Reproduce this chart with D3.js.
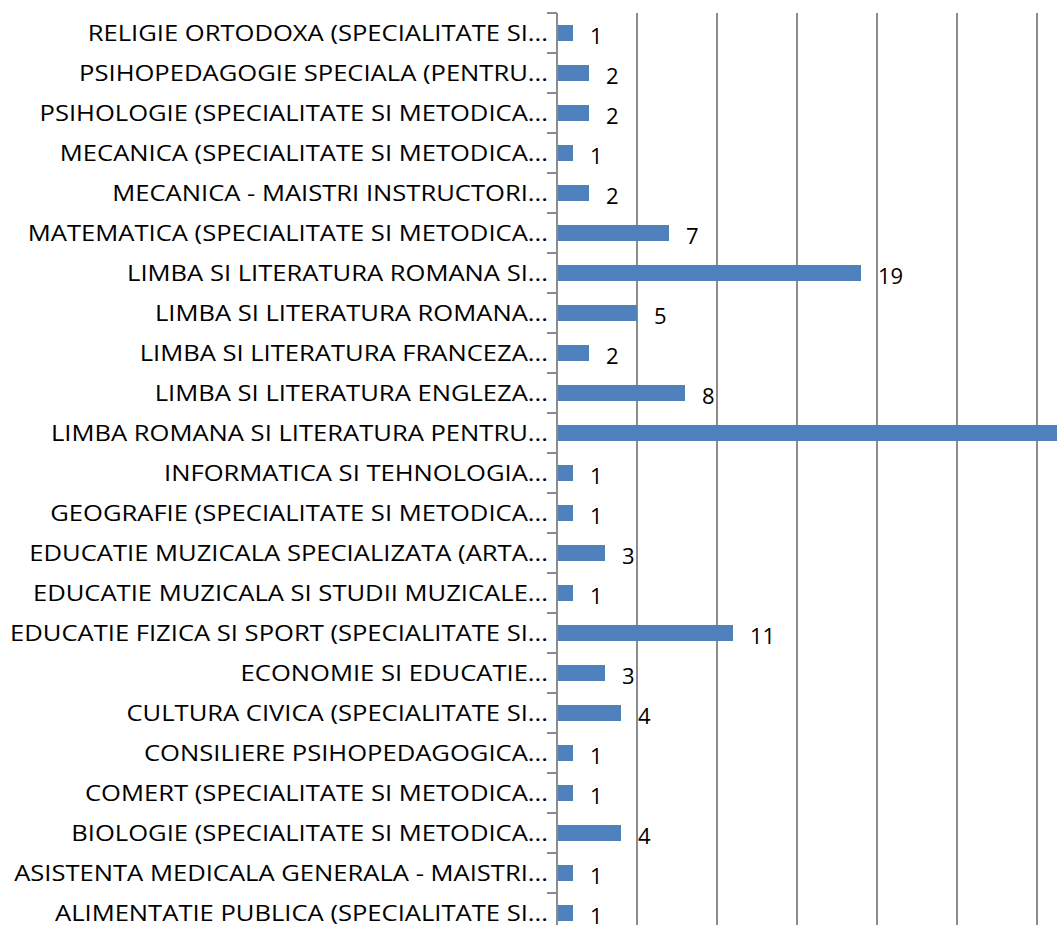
<!DOCTYPE html>
<html>
<head>
<meta charset="utf-8">
<script src="https://cdn.jsdelivr.net/npm/d3@7"></script>
<style>
  body { margin: 0; background: #fff; }
  svg { display: block; font-family: "Open Sans", "Noto Sans", sans-serif; }
</style>
</head>
<body>
<svg id="chart" width="1057" height="925"></svg>
<script>
// categories listed bottom -> top, like the sheet
var categories = [
  "ALIMENTATIE PUBLICA (SPECIALITATE SI...",
  "ASISTENTA MEDICALA GENERALA - MAISTRI...",
  "BIOLOGIE (SPECIALITATE SI METODICA...",
  "COMERT (SPECIALITATE SI METODICA...",
  "CONSILIERE PSIHOPEDAGOGICA...",
  "CULTURA CIVICA (SPECIALITATE SI...",
  "ECONOMIE SI EDUCATIE...",
  "EDUCATIE FIZICA SI SPORT (SPECIALITATE SI...",
  "EDUCATIE MUZICALA SI STUDII MUZICALE...",
  "EDUCATIE MUZICALA SPECIALIZATA (ARTA...",
  "GEOGRAFIE (SPECIALITATE SI METODICA...",
  "INFORMATICA SI TEHNOLOGIA...",
  "LIMBA ROMANA SI LITERATURA PENTRU...",
  "LIMBA SI LITERATURA ENGLEZA...",
  "LIMBA SI LITERATURA FRANCEZA...",
  "LIMBA SI LITERATURA ROMANA...",
  "LIMBA SI LITERATURA ROMANA SI...",
  "MATEMATICA (SPECIALITATE SI METODICA...",
  "MECANICA - MAISTRI INSTRUCTORI...",
  "MECANICA (SPECIALITATE SI METODICA...",
  "PSIHOLOGIE (SPECIALITATE SI METODICA...",
  "PSIHOPEDAGOGIE SPECIALA (PENTRU...",
  "RELIGIE ORTODOXA (SPECIALITATE SI..."
];
// the LIMBA ROMANA bar runs off the picture, value is a guess
var values = [1, 1, 4, 1, 1, 4, 3, 11, 1, 3, 1, 1, 40, 8, 2, 5, 19, 7, 2, 1, 2, 2, 1];
var gridTicks = [5, 10, 15, 20, 25, 30, 35];

var data = categories.map(function (c, i) { return { cat: c, val: values[i] }; });

var svg = d3.select("#chart");
var plotLeft = 557, plotTop = 13;

var x = d3.scaleLinear().domain([0, 35]).range([plotLeft, plotLeft + 35 * 16]);
var y = d3.scaleBand()
  .domain(categories.slice().reverse())
  .range([plotTop, plotTop + 40 * categories.length])
  .paddingInner(0.6).paddingOuter(0.3);

// vertical gridlines
svg.append("g").selectAll("line")
  .data(gridTicks).enter().append("line")
  .attr("x1", function (d) { return x(d); })
  .attr("x2", function (d) { return x(d); })
  .attr("y1", plotTop).attr("y2", 940)
  .attr("stroke", "#8c8c8c").attr("stroke-width", 2);

// bars
svg.append("g").selectAll("rect")
  .data(data).enter().append("rect")
  .attr("x", x(0))
  .attr("y", function (d) { return y(d.cat); })
  .attr("width", function (d) { return x(d.val) - x(0); })
  .attr("height", y.bandwidth())
  .attr("fill", "#4f81bd");

// category axis: tick marks at the band boundaries
var step = y.step();
var tickAxis = svg.append("g")
  .attr("transform", "translate(" + plotLeft + "," + (-step / 2) + ")")
  .call(d3.axisLeft(y).tickSize(10).tickFormat(""));
tickAxis.select(".domain").remove();
tickAxis.selectAll("line").attr("stroke", "#8c8c8c").attr("stroke-width", 2);

svg.append("line")
  .attr("x1", plotLeft).attr("x2", plotLeft)
  .attr("y1", plotTop).attr("y2", 940)
  .attr("stroke", "#8c8c8c").attr("stroke-width", 2);

// category labels
var labels = svg.append("g")
  .attr("transform", "translate(" + plotLeft + ",0)")
  .call(d3.axisLeft(y).tickSize(0).tickPadding(9));
labels.select(".domain").remove();
labels.selectAll("text")
  .attr("font-family", "Open Sans, Noto Sans, sans-serif")
  .attr("font-size", 21)
  .attr("fill", "#000")
  .attr("dy", "0.4em");

// stretch labels a bit so they are as wide as the Calibri originals
var widest = 0;
labels.selectAll("text").each(function () {
  widest = Math.max(widest, this.getComputedTextLength());
});
var stretch = 538 / widest;
labels.selectAll("text").each(function () {
  d3.select(this)
    .attr("textLength", this.getComputedTextLength() * stretch)
    .attr("lengthAdjust", "spacingAndGlyphs");
});

// value labels (the clipped bar has none visible)
svg.append("g").selectAll("text")
  .data(data.filter(function (d) { return d.val < 30; })).enter().append("text")
  .attr("x", function (d) { return x(d.val) + 17; })
  .attr("y", function (d) { return y(d.cat) + y.bandwidth() / 2; })
  .attr("dy", "0.5em")
  .attr("font-size", 22)
  .attr("fill", "#000")
  .text(function (d) { return d.val; });
</script>
</body>
</html>
